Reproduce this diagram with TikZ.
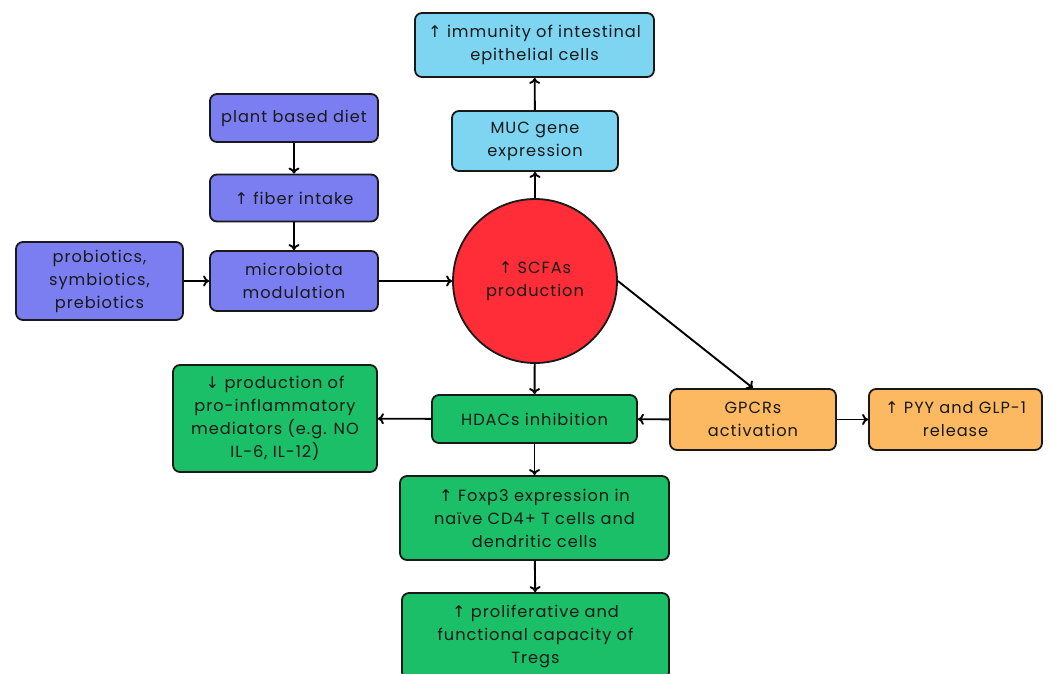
\documentclass[tikz,border=0pt]{standalone}
\usepackage{fontspec}
\setmainfont{Poppins}[LetterSpace=6]
\newfontfamily\arrowfont{DejaVu Sans}
\usetikzlibrary{positioning, arrows, arrows.meta, shapes}

\definecolor{violetbox}{HTML}{7A7EF0}
\definecolor{skybox}{HTML}{7DD5F2}
\definecolor{redcirc}{HTML}{FF2D38}
\definecolor{greenbox}{HTML}{1BBF68}
\definecolor{orangebox}{HTML}{FDB961}

\newcommand{\up}{{\arrowfont\char"2191}\ }
\newcommand{\down}{{\arrowfont\char"2193}\ }

\tikzset{
  box/.style={draw=black!90, line width=1.8pt, rounded corners=7pt, align=center,
    font=\fontsize{16.2}{23}\selectfont, text=black!90, inner sep=0pt},
  violet/.style={box, fill=violetbox},
  sky/.style={box, fill=skybox},
  green/.style={box, fill=greenbox},
  orange/.style={box, fill=orangebox},
  link/.style={-{To[length=6pt, width=11pt]}, line width=1.9pt, black}
}

\begin{document}
\begin{tikzpicture}[x=1pt, y=-1pt]
\useasboundingbox (0,0) rectangle (1051,673);
\clip (0,0) rectangle (1051,673);

\node[circle, draw=black!90, line width=1.8pt, fill=redcirc, minimum size=164pt,
  align=center, font=\fontsize{16.2}{23}\selectfont, text=black!90] (scfa) at (535,281) {\up SCFAs\\production};

\node[sky, minimum width=239pt, minimum height=64pt] (immun) at (534.5,45) {\up immunity of intestinal\\epithelial cells};
\node[sky, minimum width=166pt, minimum height=60pt] (muc) at (535,141) {MUC gene\\expression};

\node[violet, minimum width=168pt, minimum height=48pt] (diet) at (294,118) {plant based diet};
\node[violet, minimum width=168pt, minimum height=47pt] (fiber) at (294,198) {\up fiber intake};
\node[violet, minimum width=168pt, minimum height=60pt] (micro) at (294,281) {microbiota\\modulation};
\node[violet, minimum width=167pt, minimum height=78pt] (pro) at (99.5,281) {probiotics,\\symbiotics,\\prebiotics};

\node[green, minimum width=205pt, minimum height=48pt] (hdac) at (534.5,419) {HDACs inhibition};
\node[green, minimum width=204pt, minimum height=107pt] (infl) at (275,418.5) {\down production of\\pro-inflammatory\\mediators (e.g. NO\\IL-6, IL-12)};
\node[green, minimum width=269pt, minimum height=84pt] (foxp) at (534.5,518) {\up Foxp3 expression in\\naïve CD4+ T cells and\\dendritic cells};
\node[green, minimum width=267pt, minimum height=86pt] (treg) at (535.5,636) {\up proliferative and\\functional capacity of\\Tregs};

\node[orange, minimum width=166pt, minimum height=61pt] (gpcr) at (753,419.5) {GPCRs\\activation};
\node[orange, minimum width=173pt, minimum height=61pt] (pyy) at (955.5,419.5) {\up PYY and GLP-1\\release};

\draw[link] (diet) -- (fiber);
\draw[link] (fiber) -- (micro);
\draw[link] (pro) -- (micro);
\draw[link] (micro) -- (scfa);
\draw[link] (scfa) -- (muc);
\draw[link] (muc) -- (immun);
\draw[link] (scfa) -- (hdac);
\draw[link] (scfa.east) -- (gpcr.north);
\draw[link] (gpcr) -- (hdac);
\draw[link] (gpcr) -- (pyy);
\draw[link] (hdac) -- (infl);
\draw[link] (hdac) -- (foxp);
\draw[link] (foxp) -- (treg);
\end{tikzpicture}
\end{document}
